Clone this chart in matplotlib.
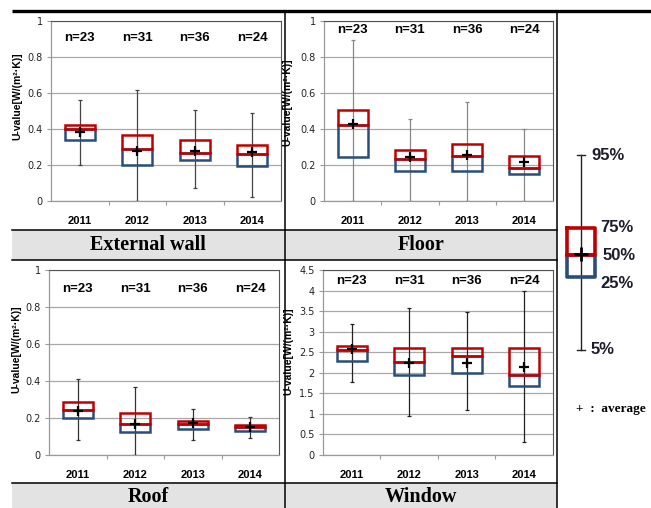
import matplotlib
matplotlib.use("Agg")
import matplotlib.pyplot as plt
from matplotlib import font_manager
import numpy as np

years = ["2011", "2012", "2013", "2014"]
counts = ["n=23", "n=31", "n=36", "n=24"]

# percentile values: 5, 25, 50, 75, 95 and the mean
wall_p5 = [0.20, 0.00, 0.07, 0.02]
wall_q1 = [0.34, 0.20, 0.23, 0.195]
wall_med = [0.40, 0.29, 0.267, 0.263]
wall_q3 = [0.425, 0.367, 0.34, 0.312]
wall_p95 = [0.56, 0.617, 0.505, 0.487]
wall_mean = [0.385, 0.28, 0.28, 0.27]

floor_p5 = [0.00, 0.00, 0.00, 0.00]
floor_q1 = [0.245, 0.167, 0.167, 0.152]
floor_med = [0.42, 0.231, 0.25, 0.183]
floor_q3 = [0.507, 0.281, 0.319, 0.25]
floor_p95 = [0.896, 0.454, 0.55, 0.398]
floor_mean = [0.426, 0.243, 0.257, 0.215]

roof_p5 = [0.079, 0.00, 0.079, 0.09]
roof_q1 = [0.198, 0.124, 0.142, 0.132]
roof_med = [0.241, 0.168, 0.169, 0.15]
roof_q3 = [0.286, 0.225, 0.186, 0.164]
roof_p95 = [0.411, 0.368, 0.249, 0.207]
roof_mean = [0.238, 0.17, 0.173, 0.153]

win_p5 = [1.78, 0.96, 1.09, 0.32]
win_q1 = [2.29, 1.95, 1.99, 1.68]
win_med = [2.56, 2.27, 2.40, 1.95]
win_q3 = [2.66, 2.61, 2.61, 2.61]
win_p95 = [3.18, 3.57, 3.49, 4.00]
win_mean = [2.575, 2.23, 2.25, 2.14]

titles = ["External wall", "Floor", "Roof", "Window"]

names = {f.name for f in font_manager.fontManager.ttflist}
narrow = "Liberation Sans Narrow" if "Liberation Sans Narrow" in names else "Liberation Sans"
serif = "Liberation Serif"

W, H = 651, 508
fig = plt.figure(figsize=(W / 100, H / 100), dpi=100)
fig.patch.set_facecolor("white")

# background axes in pixel units for the table frame
bg = fig.add_axes([0, 0, 1, 1], zorder=0)
bg.set_xlim(0, W)
bg.set_ylim(H, 0)
bg.axis("off")

bg.fill_between([12, 557], 230, 260, color="#e3e3e3", lw=0)
bg.fill_between([12, 557], 483, 508, color="#e3e3e3", lw=0)
bg.plot([12, 651], [11, 11], color="black", lw=2.4, solid_capstyle="butt")
for yy in [230, 260, 483]:
    bg.plot([12, 557], [yy, yy], color="black", lw=1.1)
for xx in [285, 557]:
    bg.plot([xx, xx], [11, 508], color="black", lw=1.1)

band_pos = [(148, 245), (421, 245), (148, 497), (421, 497)]
for t, (bx, by) in zip(titles, band_pos):
    bg.text(bx, by, t, ha="center", va="center", fontsize=14.5,
            fontweight="bold", family=serif, color="black")

# legend key in the right column
bg.plot([581, 581], [155, 350], color="#222222", lw=1.0)
bg.plot([577, 585], [155, 155], color="#222222", lw=1.0)
bg.plot([577, 585], [350, 350], color="#222222", lw=1.0)
bg.plot([567, 595, 595, 567, 567], [255, 255, 277, 277, 255], color="#2a4d7a", lw=2.6)
bg.plot([567, 595, 595, 567, 567], [228, 228, 255, 255, 228], color="#c00000", lw=2.6)
bg.plot([581], [254], marker="+", color="black", ms=10, mew=2)
key_font = dict(fontsize=12, fontweight="bold", family="Liberation Sans", color="#1c1c2c", va="center")
bg.text(591, 156, "95%", ha="left", **key_font)
bg.text(600, 228, "75%", ha="left", **key_font)
bg.text(603, 256, "50%", ha="left", **key_font)
bg.text(600, 283, "25%", ha="left", **key_font)
bg.text(591, 350, "5%", ha="left", **key_font)
bg.text(576, 409, "+  :  average", ha="left", va="center", fontsize=9.5,
        fontweight="bold", family=serif, color="black")

panels = [
    (wall_p5, wall_q1, wall_med, wall_q3, wall_p95, wall_mean),
    (floor_p5, floor_q1, floor_med, floor_q3, floor_p95, floor_mean),
    (roof_p5, roof_q1, roof_med, roof_q3, roof_p95, roof_mean),
    (win_p5, win_q1, win_med, win_q3, win_p95, win_mean),
]
rects = [(51, 281, 21, 201), (324, 553, 21, 201), (49, 279, 270, 455), (323, 553, 270, 455)]
ylims = [1.0, 1.0, 1.0, 4.5]
ysteps = [0.2, 0.2, 0.2, 0.5]
whisker_cols = ["#444444", "#888888", "#333333", "#222222"]
count_y = [0.905, 0.95, 0.90, 0.94]
label_pos = [(-0.125, 0.58), (-0.14, 0.55), (-0.118, 0.57), (-0.13, 0.56)]

for i, (data, (l, r, t, b)) in enumerate(zip(panels, rects)):
    p5, q1, med, q3, p95, mn = data
    ax = fig.add_axes([l / W, 1 - b / H, (r - l) / W, (b - t) / H], zorder=2)
    ax.set_facecolor("white")
    x = np.arange(1, 5)
    ax.set_xlim(0.5, 4.5)
    ax.set_ylim(0, ylims[i])
    ax.set_yticks(np.arange(0, ylims[i] + 1e-9, ysteps[i]))
    ax.yaxis.set_major_formatter(matplotlib.ticker.FuncFormatter(
        lambda v, p: ("%g" % round(v, 2))))
    ax.grid(axis="y", color="#a8a8a8", lw=0.9)
    ax.set_axisbelow(True)
    for s in ["top", "right"]:
        ax.spines[s].set_color("#555555")
        ax.spines[s].set_linewidth(0.8)
    for s in ["left", "bottom"]:
        ax.spines[s].set_color("#9a9a9a")
        ax.spines[s].set_linewidth(0.9)

    # whiskers
    ax.vlines(x, p5, p95, color=whisker_cols[i], lw=0.9, zorder=3)
    ax.hlines(p95, x - 0.035, x + 0.035, color=whisker_cols[i], lw=0.9, zorder=3)
    ax.hlines(p5, x - 0.035, x + 0.035, color=whisker_cols[i], lw=0.9, zorder=3)
    # boxes: lower blue, upper red
    lower = [m - a for m, a in zip(med, q1)]
    upper = [c - m for c, m in zip(q3, med)]
    ax.bar(x, lower, bottom=q1, width=0.52, fill=False, edgecolor="#2a4d7a",
           lw=1.8, zorder=4)
    ax.bar(x, upper, bottom=med, width=0.52, fill=False, edgecolor="#c00000",
           lw=1.8, zorder=5)
    ax.plot(x, mn, ls="none", marker="+", color="black", ms=7, mew=1.6, zorder=6)

    for xi, n in zip(x, counts):
        ax.text(xi, count_y[i] * ylims[i], n, ha="center", va="center",
                fontsize=9.5, fontweight="bold", family=narrow, color="black")

    ax.set_xticks(x)
    ax.set_xticklabels(years, fontsize=8, fontweight="bold", family=narrow)
    ax.tick_params(axis="x", length=0, pad=11)
    ax.set_xticks([1.5, 2.5, 3.5], minor=True)
    ax.tick_params(axis="x", which="minor", length=3, color="#9a9a9a", width=0.8)
    ax.tick_params(axis="y", length=3, color="#9a9a9a", width=0.8, pad=3,
                   labelsize=7, labelcolor="#222222")
    ax.set_ylabel("U-value[W/(m\u00b2\u00b7K)]", fontsize=7.5, fontweight="bold",
                  family=narrow)
    ax.yaxis.set_label_coords(*label_pos[i])

fig.savefig("out.png", dpi=100)
